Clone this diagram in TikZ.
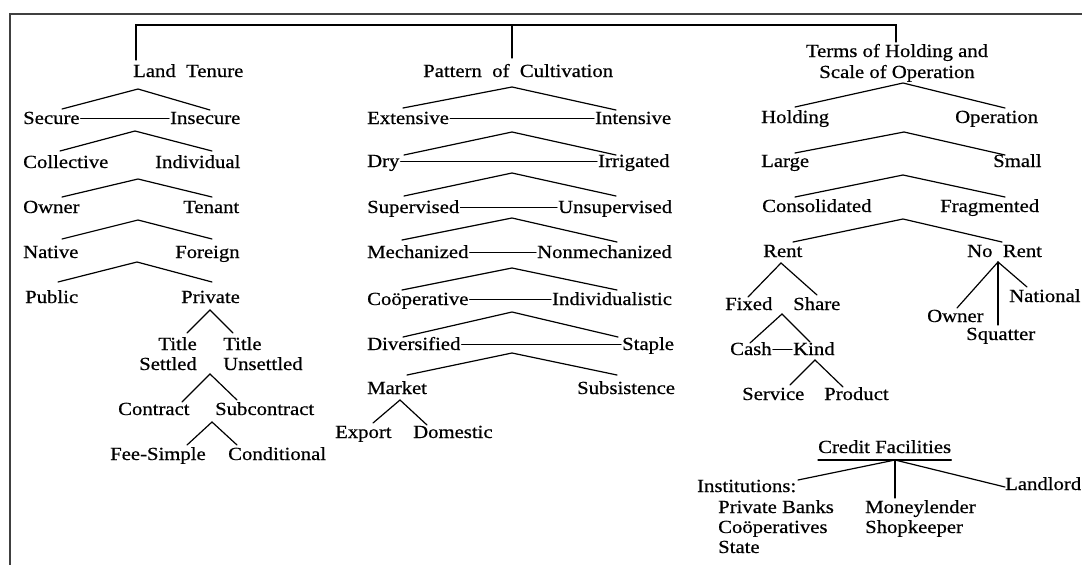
\documentclass[tikz,border=0pt]{standalone}
\usepackage{fontspec}
\setmainfont{Liberation Serif}[FakeStretch=1.12,FakeBold=0.6]
\newcommand\Caret[4]{%
  \coordinate (#1L) at #2; \coordinate (#1A) at #3; \coordinate (#1R) at #4;
  \draw[conn] (#1L) -- (#1A) -- (#1R);}
\newcommand\Pair[2]{\draw[conn] ([shift={(1,-5.5)}]#1.base east) -- ([shift={(-1,-5.5)}]#2.base west);}
\begin{document}
\begin{tikzpicture}[x=1pt,y=-1pt,
  t/.style={inner sep=0pt, anchor=base west, font=\fontsize{18.5}{20}\selectfont},
  conn/.style={line width=1.2pt, black, line cap=round, line join=miter},
  frame/.style={line width=1.6pt, black!75}]
\useasboundingbox (0,0) rectangle (1082,565);
\draw[frame] (10,566) -- (10,14) -- (1083,14);

% ---------- headings and top bracket
\node[t] (LT) at (133,77) {Land\ \ Tenure};
\node[t] (PoC) at (423,77) {Pattern\ \ of\ \ Cultivation};
\node[t, anchor=base, align=center] (TH) at (897,78) {Terms of Holding and\\[1pt]Scale of Operation};
\coordinate (B1) at (136,25);
\coordinate (B2) at (512,25);
\coordinate (B3) at (896,25);
\draw[conn] (136,60) -- (B1) -- (B3) -- (896,42);
\draw[conn] (B2) -- (512,58);

% ---------- Land Tenure
\node[t] (Sec) at (23,124) {Secure};
\node[t] (Insec) at (170,124) {Insecure};
\node[t] (Coll) at (23,168) {Collective};
\node[t] (Indiv) at (155,168) {Individual};
\node[t] (Own) at (23,213) {Owner};
\node[t] (Ten) at (183,213) {Tenant};
\node[t] (Nat) at (23,258) {Native};
\node[t] (For) at (175,258) {Foreign};
\node[t] (Pub) at (25,303) {Public};
\node[t] (Pri) at (181,303) {Private};
\node[t, anchor=base east, align=right] (TS) at (197,370) {Title\\Settled};
\node[t, align=left] (TU) at (223,370) {Title\\Unsettled};
\node[t] (Con) at (118,415) {Contract};
\node[t] (Sub) at (215,415) {Subcontract};
\node[t] (Fee) at (110,460) {Fee-Simple};
\node[t] (Cond) at (228,460) {Conditional};
\Pair{Sec}{Insec}
\Caret{l1}{(62,109)}{(138,89)}{(210,110)}
\Caret{l2}{(60,151)}{(135,131)}{(212,151)}
\Caret{l3}{(62,197)}{(138,179)}{(212,197)}
\Caret{l4}{(62,239)}{(138,220)}{(212,239)}
\Caret{l5}{(58,282)}{(137,262)}{(212,282)}
\Caret{l6}{(187,333)}{(210,310)}{(233,333)}
\Caret{l7}{(182,402)}{(210,374)}{(237,400)}
\Caret{l8}{(187,445)}{(212,422)}{(237,445)}

% ---------- Pattern of Cultivation
\node[t] (Ext) at (367,124) {Extensive};
\node[t] (Int) at (595,124) {Intensive};
\node[t] (Dry) at (367,167) {Dry};
\node[t] (Irr) at (598,167) {Irrigated};
\node[t] (Sup) at (367,213) {Supervised};
\node[t] (Unsup) at (558,213) {Unsupervised};
\node[t] (Mech) at (367,258) {Mechanized};
\node[t] (Nonm) at (537,258) {Nonmechanized};
\node[t] (Coop) at (367,305) {Coöperative};
\node[t] (Indl) at (552,305) {Individualistic};
\node[t] (Div) at (367,350) {Diversified};
\node[t] (Stap) at (622,350) {Staple};
\node[t] (Mkt) at (367,394) {Market};
\node[t] (Subs) at (577,394) {Subsistence};
\node[t] (Exp) at (335,438) {Export};
\node[t] (Dom) at (413,438) {Domestic};
\Pair{Ext}{Int}
\Pair{Dry}{Irr}
\Pair{Sup}{Unsup}
\Pair{Mech}{Nonm}
\Pair{Coop}{Indl}
\Pair{Div}{Stap}
\Caret{m1}{(403,108)}{(512,87)}{(616,110)}
\Caret{m2}{(404,155)}{(512,132)}{(616,155)}
\Caret{m3}{(404,196)}{(512,173)}{(616,196)}
\Caret{m4}{(402,240)}{(512,218)}{(617,242)}
\Caret{m5}{(402,290)}{(512,268)}{(617,290)}
\Caret{m6}{(403,337)}{(512,312)}{(618,337)}
\Caret{m7}{(407,375)}{(512,353)}{(617,375)}
\Caret{m8}{(373,423)}{(400,400)}{(427,425)}

% ---------- Terms of Holding
\node[t] (Hold) at (761,123) {Holding};
\node[t] (Oper) at (955,123) {Operation};
\node[t] (Large) at (761,167) {Large};
\node[t] (Small) at (993,167) {Small};
\node[t] (Cons) at (762,212) {Consolidated};
\node[t] (Frag) at (940,212) {Fragmented};
\node[t] (Rent) at (763,257) {Rent};
\node[t] (NoR) at (967,257) {No\ \ Rent};
\node[t] (Fix) at (725,310) {Fixed};
\node[t] (Shr) at (793,310) {Share};
\node[t] (Cash) at (730,355) {Cash};
\node[t] (Kind) at (793,355) {Kind};
\node[t] (Serv) at (742,400) {Service};
\node[t] (Prod) at (824,400) {Product};
\node[t] (OwnR) at (927,322) {Owner};
\node[t] (Squ) at (966,340) {Squatter};
\node[t] (Natl) at (1009,302) {National};
\Pair{Cash}{Kind}
\Caret{r1}{(795,107)}{(903,83)}{(1005,108)}
\Caret{r2}{(795,153)}{(904,132)}{(1005,155)}
\Caret{r3}{(795,197)}{(903,175)}{(1005,197)}
\Caret{r4}{(793,242)}{(903,219)}{(1002,242)}
\Caret{r5}{(748,297)}{(781,263)}{(817,295)}
\Caret{r6}{(750,343)}{(782,314)}{(810,342)}
\Caret{r7}{(790,385)}{(815,360)}{(843,387)}
\coordinate (nrA) at (998,262);
\draw[conn] (957,308) -- (nrA) -- (1027,287);
\draw[conn] (nrA) -- (998,325);

% ---------- Credit Facilities
\node[t] (CF) at (818,453) {Credit Facilities};
\draw[conn] ([yshift=-7pt]CF.base west) -- ([yshift=-7pt]CF.base east);
\node[t] (Inst) at (697,492) {Institutions:};
\node[t, align=left] (InstL) at (718,553) {Private Banks\\Coöperatives\\State};
\node[t, align=left] (Money) at (865,533) {Moneylender\\Shopkeeper};
\node[t] (Land) at (1005,490) {Landlord};
\coordinate (cfA) at (895,460);
\draw[conn] (798,480) -- (cfA) -- (1005,487);
\draw[conn] (cfA) -- (895,498);
\end{tikzpicture}
\end{document}
